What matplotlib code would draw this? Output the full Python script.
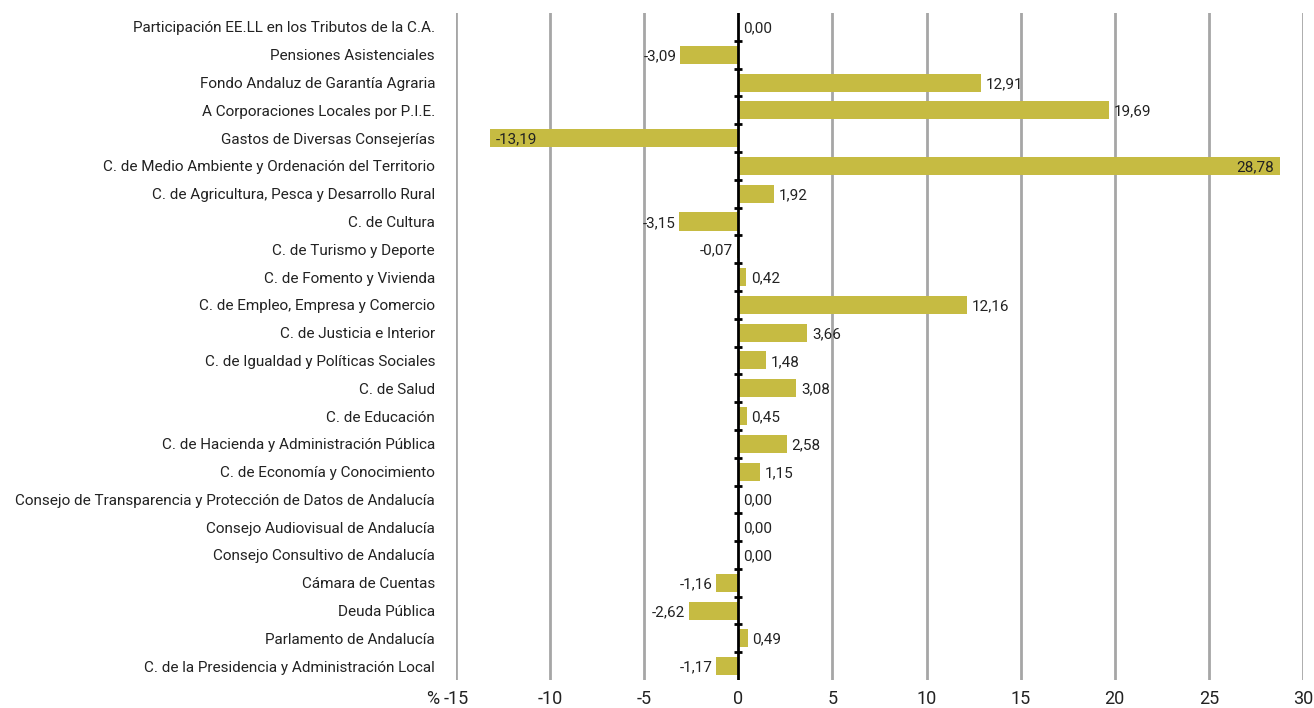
import numpy as np
import matplotlib
matplotlib.use('Agg')
import matplotlib.pyplot as plt

plt.rcParams['font.family'] = ['Roboto', 'DejaVu Sans']

categorias = ['Participación EE.LL en los Tributos de la C.A.',
              'Pensiones Asistenciales',
              'Fondo Andaluz de Garantía Agraria',
              'A Corporaciones Locales por P.I.E.',
              'Gastos de Diversas Consejerías',
              'C. de Medio Ambiente y Ordenación del Territorio',
              'C. de Agricultura, Pesca y Desarrollo Rural',
              'C. de Cultura',
              'C. de Turismo y Deporte',
              'C. de Fomento y Vivienda',
              'C. de Empleo, Empresa y Comercio',
              'C. de Justicia e Interior',
              'C. de Igualdad y Políticas Sociales',
              'C. de Salud',
              'C. de Educación',
              'C. de Hacienda y Administración Pública',
              'C. de Economía y Conocimiento',
              'Consejo de Transparencia y Protección de Datos de Andalucía',
              'Consejo Audiovisual de Andalucía',
              'Consejo Consultivo de Andalucía',
              'Cámara de Cuentas',
              'Deuda Pública',
              'Parlamento de Andalucía',
              'C. de la Presidencia y Administración Local']
valores = [0.00, -3.09, 12.91, 19.69, -13.19, 28.78, 1.92, -3.15, -0.07, 0.42,
           12.16, 3.66, 1.48, 3.08, 0.45, 2.58, 1.15, 0.00, 0.00, 0.00,
           -1.16, -2.62, 0.49, -1.17]
x_ticks = [-15, -10, -5, 0, 5, 10, 15, 20, 25, 30]

color_barra = '#c6bb42'

fig = plt.figure(figsize=(13.14, 7.08), dpi=100)
ax = fig.add_axes([0.347, 0.0395, 0.6446, 0.942])

n = len(categorias)
y = np.arange(n)

for xt in x_ticks:
    if xt != 0:
        ax.axvline(xt, color='#a6a6a6', lw=2, zorder=0)

ax.barh(y, valores, height=0.65, color=color_barra, zorder=2)
ax.axvline(0, color='black', lw=2, zorder=3)
# marcas en el eje cero entre categorias
for b in np.arange(0.5, n - 1, 1.0):
    ax.plot([-0.22, 0.22], [b, b], color='black', lw=2, zorder=3, solid_capstyle='butt')

ax.set_xlim(-15, 30)
ax.set_ylim(n - 0.5, -0.5)
ax.set_yticks(y)
ax.set_yticklabels(categorias, fontsize=11, color='#222222')
ax.set_xticks(x_ticks)
ax.set_xticklabels([str(t) for t in x_ticks], fontsize=13, color='#222222')
ax.tick_params(axis='x', length=0, pad=7)
ax.tick_params(axis='y', length=0, pad=15)
for s in ax.spines.values():
    s.set_visible(False)

ax.annotate('%', xy=(-15, 0), xycoords=('data', 'axes fraction'),
            xytext=(-12, -7), textcoords='offset points', fontsize=13,
            ha='right', va='top', color='#222222')

for i, v in enumerate(valores):
    txt = f'{v:.2f}'.replace('.', ',')
    if v > 25:
        ax.text(v - 0.3, i + 0.05, txt, ha='right', va='center', fontsize=11, zorder=4, color='#222222')
    elif v < -10:
        ax.text(v + 0.3, i + 0.05, txt, ha='left', va='center', fontsize=11, zorder=4, color='#222222')
    elif v < 0:
        ax.text(v - 0.2, i + 0.05, txt, ha='right', va='center', fontsize=11, zorder=4, color='#222222')
    else:
        ax.text(v + 0.25, i + 0.05, txt, ha='left', va='center', fontsize=11, zorder=4, color='#222222')

fig.savefig('out.png', dpi=100)
